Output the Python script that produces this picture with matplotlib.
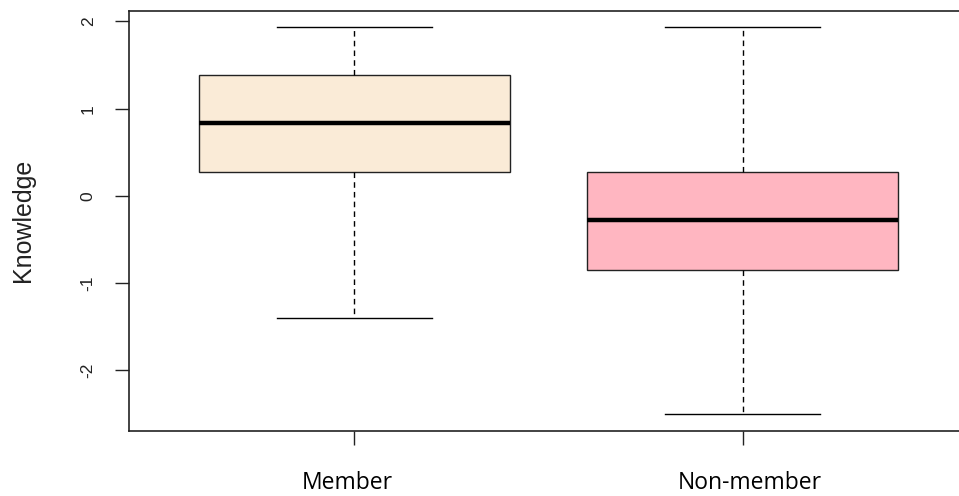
import matplotlib
matplotlib.use("Agg")
import matplotlib.pyplot as plt
import matplotlib.transforms as mtransforms

# Five-number summaries for each group
groups = ["Member", "Non-member"]
whisker_low = [-1.40, -2.50]
q1 = [0.275, -0.85]
median = [0.84, -0.275]
q3 = [1.39, 0.275]
whisker_high = [1.94, 1.94]
fill_colors = ["#FAEBD7", "#FFB6C1"]
y_ticks = [-2, -1, 0, 1, 2]

W, H = 959, 496
fig = plt.figure(figsize=(W / 100, H / 100), dpi=100)
left, right, top, bottom = 129, 968, 11, 431
ax = fig.add_axes([left / W, 1 - bottom / H, (right - left) / W, (bottom - top) / H])

stats = []
for i, g in enumerate(groups):
    stats.append(dict(label=g, whislo=whisker_low[i], q1=q1[i], med=median[i],
                      q3=q3[i], whishi=whisker_high[i], fliers=[]))

bp = ax.bxp(stats, positions=[1, 2], widths=0.8, patch_artist=True,
            showfliers=False,
            boxprops=dict(linewidth=1.0, edgecolor="#222222"),
            medianprops=dict(color="black", linewidth=3.2, solid_capstyle="butt"),
            whiskerprops=dict(color="black", linewidth=1.0, linestyle=(0, (4, 3))),
            capprops=dict(color="black", linewidth=1.0),
            capwidths=0.4)
for patch, c in zip(bp["boxes"], fill_colors):
    patch.set_facecolor(c)

ax.set_xlim(0.42, 2.58)
ax.set_ylim(-2.695, 2.12)

ax.set_yticks(y_ticks)
ax.set_yticklabels([str(t) for t in y_ticks], rotation=90, va="center",
                   fontsize=12.5, family="Liberation Sans", color="#222222")
ax.set_xticks([1, 2])
ax.set_xticklabels([])
ax.tick_params(axis="x", length=10, width=1, colors="#222222")
ax.tick_params(axis="y", length=10, width=1, pad=14, colors="#222222")

for s in ax.spines.values():
    s.set_linewidth(1.2)
    s.set_color("#222222")

# Group labels below the axis
trans = mtransforms.blended_transform_factory(ax.transData, fig.transFigure)
x_shift = [-7, 7]
for i, g in enumerate(groups):
    off = mtransforms.ScaledTranslation(x_shift[i] / 100, 0, fig.dpi_scale_trans)
    ax.text(i + 1, 1 - 495 / H, g, transform=trans + off, ha="center",
            va="bottom", fontsize=16.5, family="Open Sans", color="black",
            clip_on=False)

fig.text(23 / W, 1 - 220 / H, "Knowledge", rotation=90, ha="center", va="center",
         fontsize=18, family="Liberation Sans", color="#222222")

fig.savefig("out.png", dpi=100)
